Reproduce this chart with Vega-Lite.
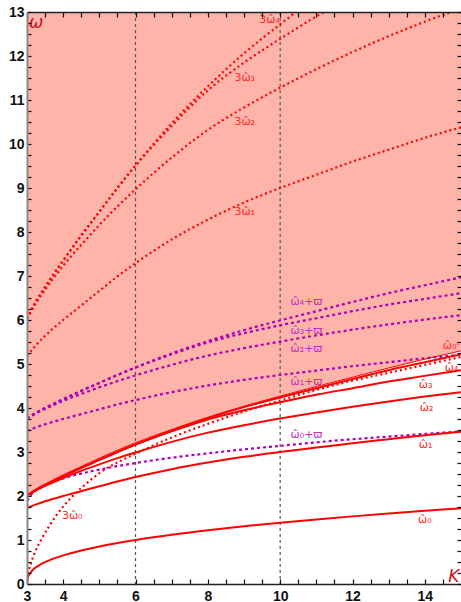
{
 "$schema": "https://vega.github.io/schema/vega-lite/v6.json",
 "width": 434, "height": 572,
 "autosize": {"type": "none"},
 "padding": {"left": 27, "top": 12, "right": 0, "bottom": 18},
 "background": "white",
 "config": {"view": {"stroke": null},
  "axis": {"labelFont": "Liberation Sans", "labelFontWeight": "bold", "labelFontSize": 14, "labelColor": "#111", "tickColor": "#111", "tickWidth": 1.2, "grid": false, "zindex": 1}},
 "datasets": {
  "a": [
   {"K":3,"w1":1.73,"w2":2.01,"w3":2.01,"w4":2.01,"wc":2.02,"t1":5.19,"t2":6.03,"t3":6.03,"t4":6.03,"p1":3.48,"p2":3.76,"p3":3.76,"p4":3.76},
   {"K":3.25,"w1":1.81,"w2":2.13,"w3":2.14,"w4":2.14,"wc":2.16,"t1":5.43,"t2":6.39,"t3":6.42,"t4":6.42,"p1":3.56,"p2":3.88,"p3":3.89,"p4":3.89},
   {"K":3.5,"w1":1.88,"w2":2.23,"w3":2.25,"w4":2.25,"wc":2.27,"t1":5.64,"t2":6.69,"t3":6.75,"t4":6.75,"p1":3.63,"p2":3.98,"p3":4.0,"p4":4.0},
   {"K":4,"w1":2.0,"w2":2.41,"w3":2.45,"w4":2.45,"wc":2.48,"t1":6.0,"t2":7.23,"t3":7.35,"t4":7.35,"p1":3.75,"p2":4.16,"p3":4.2,"p4":4.2},
   {"K":4.5,"w1":2.11,"w2":2.57,"w3":2.64,"w4":2.64,"wc":2.67,"t1":6.33,"t2":7.71,"t3":7.92,"t4":7.92,"p1":3.86,"p2":4.32,"p3":4.39,"p4":4.39},
   {"K":5,"w1":2.22,"w2":2.72,"w3":2.82,"w4":2.82,"wc":2.86,"t1":6.66,"t2":8.16,"t3":8.46,"t4":8.46,"p1":3.97,"p2":4.47,"p3":4.57,"p4":4.57},
   {"K":5.5,"w1":2.33,"w2":2.86,"w3":3.0,"w4":3.0,"wc":3.04,"t1":6.99,"t2":8.58,"t3":9.0,"t4":9.0,"p1":4.08,"p2":4.61,"p3":4.75,"p4":4.75},
   {"K":6,"w1":2.43,"w2":2.99,"w3":3.17,"w4":3.17,"wc":3.21,"t1":7.29,"t2":8.97,"t3":9.51,"t4":9.51,"p1":4.18,"p2":4.74,"p3":4.92,"p4":4.92},
   {"K":7,"w1":2.61,"w2":3.23,"w3":3.47,"w4":3.49,"wc":3.51,"t1":7.83,"t2":9.69,"t3":10.41,"t4":10.47,"p1":4.36,"p2":4.98,"p3":5.22,"p4":5.24},
   {"K":8,"w1":2.76,"w2":3.44,"w3":3.74,"w4":3.77,"wc":3.79,"t1":8.28,"t2":10.32,"t3":11.22,"t4":11.31,"p1":4.51,"p2":5.19,"p3":5.49,"p4":5.52},
   {"K":9,"w1":2.89,"w2":3.61,"w3":3.95,"w4":4.02,"wc":4.04,"t1":8.67,"t2":10.83,"t3":11.85,"t4":12.06,"p1":4.64,"p2":5.36,"p3":5.7,"p4":5.77},
   {"K":10,"w1":3.0,"w2":3.76,"w3":4.13,"w4":4.24,"wc":4.27,"t1":9.0,"t2":11.28,"t3":12.39,"t4":12.72,"p1":4.75,"p2":5.51,"p3":5.88,"p4":5.99},
   {"K":11,"w1":3.1,"w2":3.9,"w3":4.3,"w4":4.45,"wc":4.49,"t1":9.3,"t2":11.7,"t3":12.9,"t4":13.35,"p1":4.85,"p2":5.65,"p3":6.04,"p4":6.2},
   {"K":12,"w1":3.2,"w2":4.03,"w3":4.45,"w4":4.66,"wc":4.7,"t1":9.6,"t2":12.09,"t3":13.35,"t4":null,"p1":4.95,"p2":5.78,"p3":6.2,"p4":6.41},
   {"K":13,"w1":3.29,"w2":4.15,"w3":4.6,"w4":4.86,"wc":4.91,"t1":9.87,"t2":12.45,"t3":null,"t4":null,"p1":5.04,"p2":5.9,"p3":6.35,"p4":6.61},
   {"K":14,"w1":3.38,"w2":4.26,"w3":4.73,"w4":5.04,"wc":5.11,"t1":10.14,"t2":12.78,"t3":null,"t4":null,"p1":5.13,"p2":6.01,"p3":6.48,"p4":6.79},
   {"K":15,"w1":3.46,"w2":4.36,"w3":4.86,"w4":5.22,"wc":5.3,"t1":10.38,"t2":13.08,"t3":null,"t4":null,"p1":5.21,"p2":6.11,"p3":6.61,"p4":6.97}
  ],
  "b": [
   {"K":3,"w0":0,"t0":0,"p0":1.75},
   {"K":3.02,"w0":0.14,"t0":0.18,"p0":1.89},
   {"K":3.05,"w0":0.2,"t0":0.3,"p0":1.95},
   {"K":3.1,"w0":0.26,"t0":0.45,"p0":2.01},
   {"K":3.2,"w0":0.35,"t0":0.68,"p0":2.1},
   {"K":3.4,"w0":0.455,"t0":1.02,"p0":2.2},
   {"K":3.6,"w0":0.533,"t0":1.3,"p0":2.28},
   {"K":4,"w0":0.651,"t0":1.76,"p0":2.4},
   {"K":4.5,"w0":0.763,"t0":2.18,"p0":2.51},
   {"K":5,"w0":0.854,"t0":2.52,"p0":2.6},
   {"K":6,"w0":1.0,"t0":2.96,"p0":2.75},
   {"K":7,"w0":1.119,"t0":3.33,"p0":2.87},
   {"K":8,"w0":1.221,"t0":3.64,"p0":2.97},
   {"K":9,"w0":1.312,"t0":3.92,"p0":3.06},
   {"K":10,"w0":1.393,"t0":4.17,"p0":3.14},
   {"K":11,"w0":1.468,"t0":4.41,"p0":3.22},
   {"K":12,"w0":1.537,"t0":4.62,"p0":3.29},
   {"K":13,"w0":1.602,"t0":4.8,"p0":3.35},
   {"K":14,"w0":1.663,"t0":4.98,"p0":3.41},
   {"K":15,"w0":1.72,"t0":5.16,"p0":3.47}
  ],
  "labels": [
   {"K":4.25,"w":1.55,"t":"3ω̂₀","col":"#ff2a2a"},
   {"K":9.02,"w":8.45,"t":"3ω̂₁","col":"#ff2a2a"},
   {"K":9.02,"w":10.5,"t":"3ω̂₂","col":"#ff2a2a"},
   {"K":9.02,"w":11.5,"t":"3ω̂₃","col":"#ff2a2a"},
   {"K":9.71,"w":12.82,"t":"3ω̂₄","col":"#ff2a2a"},
   {"K":14.74,"w":5.42,"t":"ω̂₀ᶜ","col":"#ff2a2a"},
   {"K":14.74,"w":4.92,"t":"ω̂₄","col":"#ff2a2a"},
   {"K":14.02,"w":4.53,"t":"ω̂₃","col":"#ff2a2a"},
   {"K":14.05,"w":4.01,"t":"ω̂₂","col":"#ff2a2a"},
   {"K":14.02,"w":3.17,"t":"ω̂₁","col":"#ff2a2a"},
   {"K":14.0,"w":1.46,"t":"ω̂₀","col":"#ff2a2a"},
   {"K":10.73,"w":6.4,"t":"ω̂₄+ϖ","col":"#c030c0"},
   {"K":10.73,"w":5.74,"t":"ω̂₃+ϖ","col":"#c030c0"},
   {"K":10.73,"w":5.33,"t":"ω̂₂+ϖ","col":"#c030c0"},
   {"K":10.73,"w":4.6,"t":"ω̂₁+ϖ","col":"#c030c0"},
   {"K":10.73,"w":3.39,"t":"ω̂₀+ϖ","col":"#c030c0"}
  ],
  "titles": [
   {"K":3.25,"w":12.76,"t":"ω"},
   {"K":14.8,"w":0.16,"t":"K"}
  ]
 },
 "resolve": {"axis": {"x": "independent", "y": "independent"}},
 "layer": [
  {"data": {"name": "a"},
   "mark": {"type": "area", "color": "#ffb4aa", "interpolate": "monotone"},
   "encoding": {
    "x": {"field": "K", "type": "quantitative", "scale": {"domain": [3, 15], "nice": false, "zero": false},
      "axis": {"orient": "bottom", "title": null, "zindex": 2, "values": [3,3.5,4,4.5,5,5.5,6,6.5,7,7.5,8,8.5,9,9.5,10,10.5,11,11.5,12,12.5,13,13.5,14,14.5],
        "labelExpr": "indexof([3,4,6,8,10,12,14], datum.value) >= 0 ? format(datum.value, 'd') : ''",
        "tickSize": -5, "labelPadding": 10, "domainColor": "#222", "domainWidth": 1.5, "labelOverlap": false, "labelFlush": false, "labelBound": false}},
    "y": {"field": "wc", "type": "quantitative", "scale": {"domain": [0, 13], "nice": false, "zero": false},
      "axis": {"orient": "left", "title": null, "zindex": 2, "values": [0,0.25,0.5,0.75,1,1.25,1.5,1.75,2,2.25,2.5,2.75,3,3.25,3.5,3.75,4,4.25,4.5,4.75,5,5.25,5.5,5.75,6,6.25,6.5,6.75,7,7.25,7.5,7.75,8,8.25,8.5,8.75,9,9.25,9.5,9.75,10,10.25,10.5,10.75,11,11.25,11.5,11.75,12,12.25,12.5,12.75,13],
        "labelExpr": "datum.value % 1 == 0 ? format(datum.value, 'd') : ''",
        "tickSize": -4, "labelPadding": 7, "domainColor": "#888", "domainWidth": 2, "labelOverlap": false, "labelFlush": false, "labelBound": false}},
    "y2": {"datum": 13}
   }},
  {"data": {"values": [{"K": 6}, {"K": 10}]},
   "mark": {"type": "rule", "color": "#555", "strokeDash": [3, 3], "strokeWidth": 1.2},
   "encoding": {"x": {"field": "K", "type": "quantitative", "scale": {"domain": [3, 15], "nice": false, "zero": false}, "axis": null}}},
  {"data": {"name": "a"},
   "transform": [{"fold": ["t1", "t2", "t3", "t4"], "as": ["c", "w"]}],
   "mark": {"type": "line", "color": "#ff0000", "strokeDash": [2, 3], "strokeWidth": 2.2, "clip": true, "interpolate": "monotone"},
   "encoding": {
    "x": {"field": "K", "type": "quantitative", "scale": {"domain": [3, 15], "nice": false, "zero": false},
      "axis": {"orient": "top", "title": null, "zindex": 2, "labels": false, "values": [3,3.5,4,4.5,5,5.5,6,6.5,7,7.5,8,8.5,9,9.5,10,10.5,11,11.5,12,12.5,13,13.5,14,14.5], "tickSize": -5, "domainColor": "#222", "domainWidth": 1.5}},
    "y": {"field": "w", "type": "quantitative", "scale": {"domain": [0, 13], "nice": false, "zero": false},
      "axis": {"orient": "right", "title": null, "zindex": 2, "labels": false, "domain": false, "tickSize": -4, "values": [0,0.25,0.5,0.75,1,1.25,1.5,1.75,2,2.25,2.5,2.75,3,3.25,3.5,3.75,4,4.25,4.5,4.75,5,5.25,5.5,5.75,6,6.25,6.5,6.75,7,7.25,7.5,7.75,8,8.25,8.5,8.75,9,9.25,9.5,9.75,10,10.25,10.5,10.75,11,11.25,11.5,11.75,12,12.25,12.5,12.75,13]}},
    "detail": {"field": "c", "type": "nominal"}
   }},
  {"data": {"name": "b"},
   "mark": {"type": "line", "color": "#ff0000", "strokeDash": [2, 3], "strokeWidth": 2.2, "clip": true, "interpolate": "monotone"},
   "encoding": {
    "x": {"field": "K", "type": "quantitative", "scale": {"domain": [3, 15], "nice": false, "zero": false}, "axis": null},
    "y": {"field": "t0", "type": "quantitative", "scale": {"domain": [0, 13], "nice": false, "zero": false}, "axis": null}
   }},
  {"data": {"name": "a"},
   "transform": [{"fold": ["p1", "p2", "p3", "p4"], "as": ["c", "w"]}],
   "mark": {"type": "line", "color": "#b000b8", "strokeDash": [3, 3], "strokeWidth": 2.2, "clip": true, "interpolate": "monotone"},
   "encoding": {
    "x": {"field": "K", "type": "quantitative", "scale": {"domain": [3, 15], "nice": false, "zero": false}, "axis": null},
    "y": {"field": "w", "type": "quantitative", "scale": {"domain": [0, 13], "nice": false, "zero": false}, "axis": null},
    "detail": {"field": "c", "type": "nominal"}
   }},
  {"data": {"name": "b"},
   "mark": {"type": "line", "color": "#b000b8", "strokeDash": [3, 3], "strokeWidth": 2.2, "clip": true, "interpolate": "monotone"},
   "encoding": {
    "x": {"field": "K", "type": "quantitative", "scale": {"domain": [3, 15], "nice": false, "zero": false}, "axis": null},
    "y": {"field": "p0", "type": "quantitative", "scale": {"domain": [0, 13], "nice": false, "zero": false}, "axis": null}
   }},
  {"data": {"name": "a"},
   "transform": [{"fold": ["w1", "w2", "w3", "w4"], "as": ["c", "w"]}],
   "mark": {"type": "line", "color": "#ff0000", "strokeWidth": 2, "clip": true, "interpolate": "monotone"},
   "encoding": {
    "x": {"field": "K", "type": "quantitative", "scale": {"domain": [3, 15], "nice": false, "zero": false}, "axis": null},
    "y": {"field": "w", "type": "quantitative", "scale": {"domain": [0, 13], "nice": false, "zero": false}, "axis": null},
    "detail": {"field": "c", "type": "nominal"}
   }},
  {"data": {"name": "b"},
   "mark": {"type": "line", "color": "#ff0000", "strokeWidth": 2, "clip": true, "interpolate": "monotone"},
   "encoding": {
    "x": {"field": "K", "type": "quantitative", "scale": {"domain": [3, 15], "nice": false, "zero": false}, "axis": null},
    "y": {"field": "w0", "type": "quantitative", "scale": {"domain": [0, 13], "nice": false, "zero": false}, "axis": null}
   }},
  {"data": {"name": "a"},
   "mark": {"type": "line", "color": "#ff0000", "strokeWidth": 1, "clip": true, "interpolate": "monotone"},
   "encoding": {
    "x": {"field": "K", "type": "quantitative", "scale": {"domain": [3, 15], "nice": false, "zero": false}, "axis": null},
    "y": {"field": "wc", "type": "quantitative", "scale": {"domain": [0, 13], "nice": false, "zero": false}, "axis": null}
   }},
  {"data": {"name": "labels"},
   "mark": {"type": "text", "font": "DejaVu Sans", "fontSize": 11},
   "encoding": {
    "x": {"field": "K", "type": "quantitative", "scale": {"domain": [3, 15], "nice": false, "zero": false}, "axis": null},
    "y": {"field": "w", "type": "quantitative", "scale": {"domain": [0, 13], "nice": false, "zero": false}, "axis": null},
    "text": {"field": "t"},
    "color": {"field": "col", "type": "nominal", "scale": null}
   }},
  {"data": {"name": "titles"},
   "mark": {"type": "text", "font": "DejaVu Sans", "fontSize": 17, "fontStyle": "italic", "color": "#cc1018"},
   "encoding": {
    "x": {"field": "K", "type": "quantitative", "scale": {"domain": [3, 15], "nice": false, "zero": false}, "axis": null},
    "y": {"field": "w", "type": "quantitative", "scale": {"domain": [0, 13], "nice": false, "zero": false}, "axis": null},
    "text": {"field": "t"}
   }}
 ]
}
